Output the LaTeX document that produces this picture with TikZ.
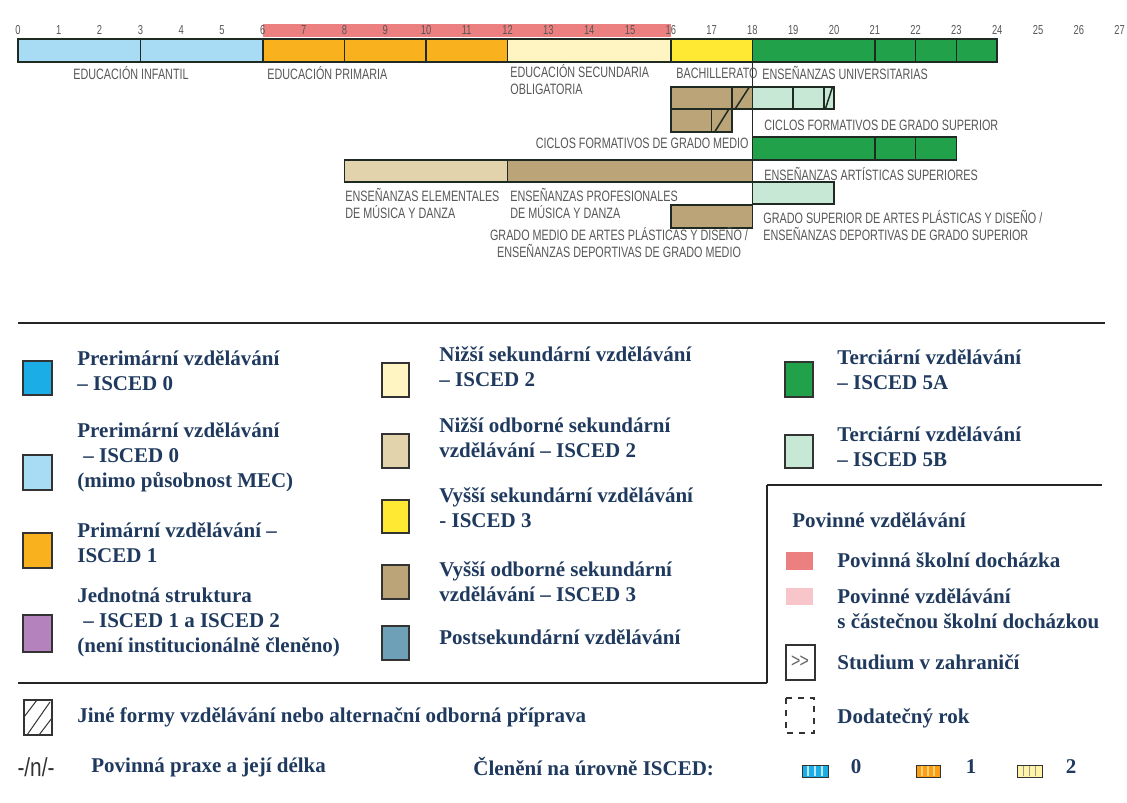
\documentclass[tikz,border=0pt]{standalone}
\usepackage{fontspec}
\setmainfont{Liberation Serif}
\newfontfamily\condsans[FakeStretch=0.72]{Liberation Sans}
\newfontfamily\narrowsans[FakeStretch=0.8]{Liberation Sans}
\usepackage{xcolor}
\usepackage{tikz}

\definecolor{isceda}{HTML}{1BAEE6}
\definecolor{infantil}{HTML}{A8DCF4}
\definecolor{primaria}{HTML}{F9B21E}
\definecolor{eso}{HTML}{FFF5C2}
\definecolor{bach}{HTML}{FFE933}
\definecolor{unigreen}{HTML}{21A24A}
\definecolor{fpsup}{HTML}{C8E8D6}
\definecolor{tanlight}{HTML}{E2D3AC}
\definecolor{tanbrown}{HTML}{BBA478}
\definecolor{jednotna}{HTML}{B483BE}
\definecolor{postsec}{HTML}{6EA1B8}
\definecolor{compred}{HTML}{EC7F7F}
\definecolor{comppink}{HTML}{F8C6CA}
\definecolor{legendtext}{HTML}{1F3A5E}
\definecolor{bartext}{HTML}{585858}
\definecolor{barline}{HTML}{1E2A22}

\begin{document}
\begin{tikzpicture}[x=0.5pt,y=-0.5pt,
bar/.style={draw=barline,line width=0.75pt},
swatch/.style={draw=black!80,line width=0.75pt},
rule/.style={draw=black!85,line width=1pt},
agenum/.style={font=\condsans\fontsize{6.5}{6.5}\selectfont,text=bartext,inner sep=0pt},
barlabel/.style={font=\condsans\fontsize{7.5}{8.5}\selectfont,text=bartext,inner sep=0pt,align=left},
legtext/.style={font=\bfseries\fontsize{10.5}{12.5}\selectfont,text=legendtext,inner sep=0pt,align=left,anchor=west}
]
\useasboundingbox (0,0) rectangle (1127,802);
\fill[white] (0,0) rectangle (1127,802);

% age axis and bars (x in years)
\begin{scope}[shift={(18,0)},x=20.4pt]
\fill[compred] (6,24) rectangle (16,37);
\foreach \a in {0,...,27} \node[agenum] (age\a) at (\a,30) {\a};

\draw[bar,fill=infantil] (0,39) rectangle (6,62);
\draw[bar,fill=primaria] (6,39) rectangle (12,62);
\draw[bar,fill=eso] (12,39) rectangle (16,62);
\draw[bar,fill=bach] (16,39) rectangle (18,62);
\draw[bar,fill=unigreen] (18,39) rectangle (24,62);
\foreach \d in {3,8,10,21,22,23} \draw[bar] (\d,39) -- (\d,62);
\draw[bar] (18,62) -- (18,205);

\draw[bar,fill=tanbrown] (16,87) rectangle (18,109);
\draw[bar] (17.5,87) -- (17.5,109);
\draw[bar,fill=fpsup] (18,87) rectangle (20,109);
\foreach \d in {19,19.75} \draw[bar] (\d,87) -- (\d,109);
\draw[bar,fill=tanbrown] (16,109) rectangle (17.5,132);
\draw[bar] (17,109) -- (17,132);
\foreach \l/\r/\t/\b in {17.5/18/87/109,19.75/20/87/109,17/17.5/109/132}
  \draw[bar] ({\l+0.15*(\r-\l)},\b) -- ({\r-0.15*(\r-\l)},\t);

\draw[bar,fill=unigreen] (18,137) rectangle (23,160);
\foreach \d in {21,22} \draw[bar] (\d,137) -- (\d,160);
\draw[bar,fill=tanlight] (8,160) rectangle (12,182);
\draw[bar,fill=tanbrown] (12,160) rectangle (18,182);
\draw[bar,fill=fpsup] (18,182) rectangle (20,204);
\draw[bar,fill=tanbrown] (16,205) rectangle (18,228);
\end{scope}

\node[barlabel,anchor=west] (lab-infantil) at (73,73) {EDUCACIÓN INFANTIL};
\node[barlabel,anchor=west] (lab-primaria) at (267,73) {EDUCACIÓN PRIMARIA};
\node[barlabel,anchor=north west] (lab-eso) at (510,64) {EDUCACIÓN SECUNDARIA\\OBLIGATORIA};
\node[barlabel,anchor=west] (lab-bach) at (676,73) {BACHILLERATO};
\node[barlabel,anchor=west] (lab-uni) at (762,73) {ENSEÑANZAS UNIVERSITARIAS};
\node[barlabel,anchor=west] (lab-cfgs) at (764,125) {CICLOS FORMATIVOS DE GRADO SUPERIOR};
\node[barlabel,anchor=east] (lab-cfgm) at (749,143) {CICLOS FORMATIVOS DE GRADO MEDIO};
\node[barlabel,anchor=west] (lab-art) at (764,174) {ENSEÑANZAS ARTÍSTICAS SUPERIORES};
\node[barlabel,anchor=north west] (lab-elem) at (345,188) {ENSEÑANZAS ELEMENTALES\\DE MÚSICA Y DANZA};
\node[barlabel,anchor=north west] (lab-prof) at (510,188) {ENSEÑANZAS PROFESIONALES\\DE MÚSICA Y DANZA};
\node[barlabel,anchor=north,align=center] (lab-gm) at (619,227) {GRADO MEDIO DE ARTES PLÁSTICAS Y DISEÑO /\\ENSEÑANZAS DEPORTIVAS DE GRADO MEDIO};
\node[barlabel,anchor=north west] (lab-gs) at (763,210) {GRADO SUPERIOR DE ARTES PLÁSTICAS Y DISEÑO /\\ENSEÑANZAS DEPORTIVAS DE GRADO SUPERIOR};

% legend
\draw[rule] (18,323) -- (1105,323);
\draw[rule] (767,485) -- (1102,485);
\draw[rule] (767,485) -- (767,683);
\draw[rule] (18,683) -- (767,683);

\draw[swatch,fill=isceda] (23,361) rectangle (52,395);
\node[legtext] (leg-p0) at (77,371) {Prerimární vzdělávání\\– ISCED 0};
\draw[swatch,fill=infantil] (23,455) rectangle (52,490);
\node[legtext] (leg-p0mec) at (77,457) {Prerimární vzdělávání\\\hspace*{3pt}– ISCED 0\\(mimo působnost MEC)};
\draw[swatch,fill=primaria] (23,533) rectangle (52,568);
\node[legtext] (leg-p1) at (77,543) {Primární vzdělávání –\\ISCED 1};
\draw[swatch,fill=jednotna] (23,615) rectangle (52,652);
\node[legtext] (leg-p12) at (77,622) {Jednotná struktura\\\hspace*{3pt}– ISCED 1 a ISCED 2\\(není institucionálně členěno)};

\draw[swatch,fill=eso] (382,363) rectangle (409,397);
\node[legtext] (leg-s2) at (439,367) {Nižší sekundární vzdělávání\\– ISCED 2};
\draw[swatch,fill=tanlight] (382,434) rectangle (409,468);
\node[legtext] (leg-s2o) at (439,438) {Nižší odborné sekundární\\vzdělávání – ISCED 2};
\draw[swatch,fill=bach] (382,500) rectangle (409,533);
\node[legtext] (leg-s3) at (439,508) {Vyšší sekundární vzdělávání\\- ISCED 3};
\draw[swatch,fill=tanbrown] (382,565) rectangle (409,599);
\node[legtext] (leg-s3o) at (439,582) {Vyšší odborné sekundární\\vzdělávání – ISCED 3};
\draw[swatch,fill=postsec] (382,626) rectangle (409,660);
\node[legtext] (leg-ps) at (439,637) {Postsekundární vzdělávání};

\draw[swatch,fill=unigreen] (785,362) rectangle (813,397);
\node[legtext] (leg-t5a) at (837,370) {Terciární vzdělávání\\– ISCED 5A};
\draw[swatch,fill=fpsup] (785,435) rectangle (813,468);
\node[legtext] (leg-t5b) at (837,447) {Terciární vzdělávání\\– ISCED 5B};
\node[legtext] (leg-pov) at (792,520) {Povinné vzdělávání};
\fill[compred] (786,552) rectangle (813,570);
\node[legtext] (leg-povs) at (837,560) {Povinná školní docházka};
\fill[comppink] (786,588) rectangle (813,605);
\node[legtext] (leg-povc) at (837,609) {Povinné vzdělávání\\s částečnou školní docházkou};
\fill[white] (830,632) rectangle (1100,641);
\draw[swatch,line width=0.6pt] (786,645) rectangle (815,680);
\node[font=\narrowsans\fontsize{10}{10}\selectfont,text=black!60,inner sep=0pt] (abroad) at (800,662) {>\kern-0.5pt>};
\node[legtext] (leg-abroad) at (837,662) {Studium v zahraničí};
\draw[swatch,dashed] (786,698) rectangle (814,733);
\node[legtext] (leg-extra) at (837,718) {Dodatečný rok};

\draw[swatch] (24,700) rectangle (52,735);
\draw[swatch,line width=0.5pt] (24,717) -- (37,700) (27,735) -- (50,702) (39,735) -- (52,718);
\node[legtext] (leg-other) at (77,717) {Jiné formy vzdělávání nebo alternační odborná příprava};
\node[font=\narrowsans\fontsize{13}{13}\selectfont,text=black!80,inner sep=0pt] (prax) at (36,767) {-/n/-};
\node[legtext] (leg-prax) at (91,767) {Povinná praxe a její délka};
\node[legtext] (leg-isced) at (473,767) {Členění na úrovně ISCED:};

\fill[isceda] (802,765) rectangle (828,777);
\foreach \s in {808,815,822} \draw[white!70!isceda,line width=1pt] (\s,766) -- (\s,776);
\draw[swatch,line width=0.5pt] (802,765) rectangle (828,777);
\node[legtext,anchor=center] (lv0) at (856,767) {0};
\fill[primaria!60!orange] (916,765) rectangle (940,777);
\foreach \s in {922,928,934} \draw[primaria!60!white,line width=1pt] (\s,766) -- (\s,776);
\draw[swatch,line width=0.5pt] (916,765) rectangle (940,777);
\node[legtext,anchor=center] (lv1) at (971,767) {1};
\fill[eso!80!bach] (1017,765) rectangle (1042,777);
\foreach \s in {1023,1029,1035} \draw[black!40,line width=0.4pt] (\s,766) -- (\s,776);
\draw[swatch,line width=0.5pt] (1017,765) rectangle (1042,777);
\node[legtext,anchor=center] (lv2) at (1071,767) {2};
\end{tikzpicture}
\end{document}
